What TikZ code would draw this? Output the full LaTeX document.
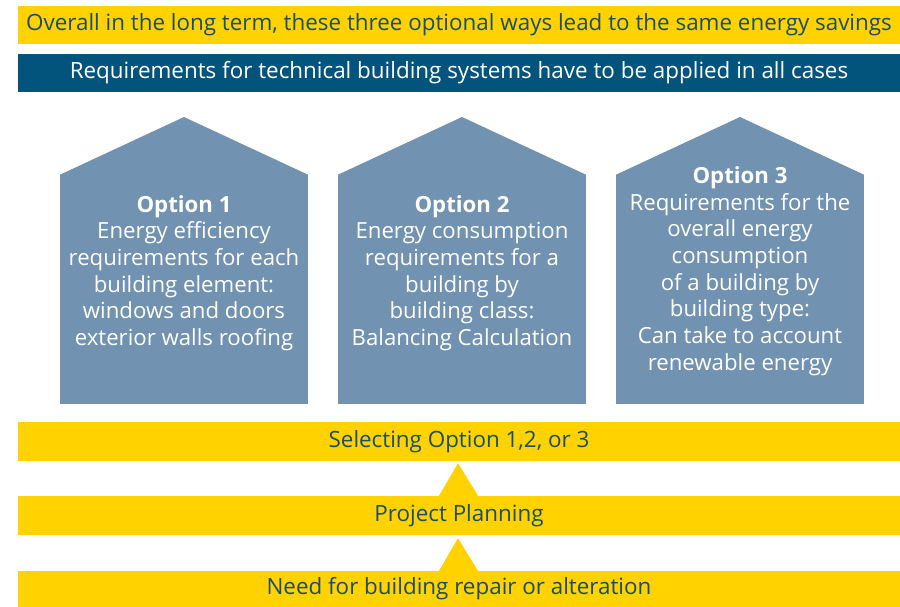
\documentclass[tikz,border=0pt]{standalone}
\usepackage{fontspec}
\setmainfont{Open Sans}
\usetikzlibrary{calc}
\definecolor{barYellow}{HTML}{FFD200}
\definecolor{barBlue}{HTML}{02547C}
\definecolor{houseBlue}{HTML}{7192B0}
\definecolor{inkBlue}{HTML}{1B4D6C}

\begin{document}
\begin{tikzpicture}[x=1pt,y=-1pt,
  every node/.style={font=\fontsize{22.4}{26}\selectfont},
  bar/.style={fill=barYellow,text=inkBlue,minimum width=882pt,inner sep=0pt},
  topbar/.style={fill=barBlue,text=white,minimum width=882pt,inner sep=0pt},
  housebody/.style={fill=houseBlue,minimum width=248pt,minimum height=229pt,inner sep=0pt},
  housetext/.style={text=white,align=center,font=\fontsize{22.2}{26.7}\selectfont}]
\useasboundingbox (0,0) rectangle (900,607);
% top bars
\node[bar,minimum height=38pt] (savings) at (459,25) {Overall in the long term, these three optional ways lead to the same energy savings};
\node[topbar,minimum height=38pt] (technical) at (459,73) {Requirements for technical building systems have to be applied in all cases};
% houses
\node[housebody] (h1) at (184,289.5) {};
\node[housebody] (h2) at (462,289.5) {};
\node[housebody] (h3) at (740,289.5) {};
\fill[houseBlue] (h1.north west) -- (184,117) -- (h1.north east) -- cycle;
\fill[houseBlue] (h2.north west) -- (462,117) -- (h2.north east) -- cycle;
\fill[houseBlue] (h3.north west) -- (740,117) -- (h3.north east) -- cycle;
\node[housetext] (opt1) at (184,273) {\textbf{Option 1}\\Energy efficiency\\requirements for each\\building element:\\windows and doors\\exterior walls roofing};
\node[housetext] (opt2) at (462,273) {\textbf{Option 2}\\Energy consumption\\requirements for a\\building by\\building class:\\Balancing Calculation};
\node[housetext] (opt3) at (740,271) {\textbf{Option 3}\\Requirements for the\\overall energy\\consumption\\of a building by\\building type:\\Can take to account\\renewable energy};
% bottom bars
\node[bar,minimum height=39pt] (select) at (459,441.5) {Selecting Option 1,2, or 3};
\node[bar,minimum height=39pt] (plan) at (459,515.5) {Project Planning};
\node[bar,minimum height=36pt] (need) at (459,589) {Need for building repair or alteration};
% arrows
\fill[barYellow] ($(plan.north)+(-20,0)$) -- ($(select.south)+(-1,2)$) -- ($(plan.north)+(19,0)$) -- cycle;
\fill[barYellow] ($(need.north)+(-20,0)$) -- ($(plan.south)+(-1,3)$) -- ($(need.north)+(19,0)$) -- cycle;
\end{tikzpicture}
\end{document}
